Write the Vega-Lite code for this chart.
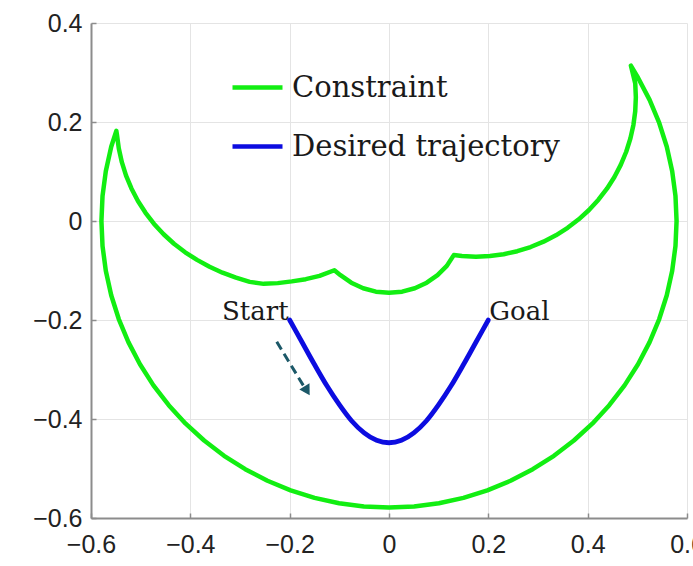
{
  "$schema": "https://vega.github.io/schema/vega-lite/v6.json",
  "width": 596,
  "height": 495,
  "autosize": {"type": "none"},
  "padding": {"left": 91, "top": 23, "right": 6, "bottom": 48},
  "background": "white",
  "config": {
    "view": {"stroke": null},
    "axis": {
      "domainColor": "#8c8c8c",
      "domainWidth": 2,
      "tickColor": "#8c8c8c",
      "tickWidth": 1.5,
      "tickSize": -5,
      "gridColor": "#e4e4e4",
      "gridWidth": 1,
      "labelFont": "Liberation Sans",
      "labelFontSize": 25,
      "labelColor": "#222222",
      "labelFlush": false,
      "labelOverlap": false,
      "labelBound": false,
      "title": null
    },
    "legend": {
      "orient": "none",
      "legendX": 139,
      "legendY": 37,
      "symbolType": "stroke",
      "symbolSize": 2500,
      "symbolStrokeWidth": 4.5,
      "labelFont": "DejaVu Serif",
      "labelFontSize": 29,
      "labelColor": "#1a1a1a",
      "labelOffset": 7,
      "labelLimit": 0,
      "rowPadding": 16,
      "padding": 0,
      "title": null
    }
  },
  "datasets": {
    "constraint": [
      {"series": "Constraint", "i": 0, "x": -0.549, "y": 0.182},
      {"series": "Constraint", "i": 1, "x": -0.5593, "y": 0.1499},
      {"series": "Constraint", "i": 2, "x": -0.5702, "y": 0.1005},
      {"series": "Constraint", "i": 3, "x": -0.5768, "y": 0.0505},
      {"series": "Constraint", "i": 4, "x": -0.579, "y": 0},
      {"series": "Constraint", "i": 5, "x": -0.5768, "y": -0.0505},
      {"series": "Constraint", "i": 6, "x": -0.5702, "y": -0.1005},
      {"series": "Constraint", "i": 7, "x": -0.5593, "y": -0.1499},
      {"series": "Constraint", "i": 8, "x": -0.5441, "y": -0.198},
      {"series": "Constraint", "i": 9, "x": -0.5247, "y": -0.2447},
      {"series": "Constraint", "i": 10, "x": -0.5014, "y": -0.2895},
      {"series": "Constraint", "i": 11, "x": -0.4743, "y": -0.3321},
      {"series": "Constraint", "i": 12, "x": -0.4435, "y": -0.3722},
      {"series": "Constraint", "i": 13, "x": -0.4094, "y": -0.4094},
      {"series": "Constraint", "i": 14, "x": -0.3722, "y": -0.4435},
      {"series": "Constraint", "i": 15, "x": -0.3321, "y": -0.4743},
      {"series": "Constraint", "i": 16, "x": -0.2895, "y": -0.5014},
      {"series": "Constraint", "i": 17, "x": -0.2447, "y": -0.5247},
      {"series": "Constraint", "i": 18, "x": -0.198, "y": -0.5441},
      {"series": "Constraint", "i": 19, "x": -0.1499, "y": -0.5593},
      {"series": "Constraint", "i": 20, "x": -0.1005, "y": -0.5702},
      {"series": "Constraint", "i": 21, "x": -0.0505, "y": -0.5768},
      {"series": "Constraint", "i": 22, "x": 0, "y": -0.579},
      {"series": "Constraint", "i": 23, "x": 0.0505, "y": -0.5768},
      {"series": "Constraint", "i": 24, "x": 0.1005, "y": -0.5702},
      {"series": "Constraint", "i": 25, "x": 0.1499, "y": -0.5593},
      {"series": "Constraint", "i": 26, "x": 0.198, "y": -0.5441},
      {"series": "Constraint", "i": 27, "x": 0.2447, "y": -0.5247},
      {"series": "Constraint", "i": 28, "x": 0.2895, "y": -0.5014},
      {"series": "Constraint", "i": 29, "x": 0.3321, "y": -0.4743},
      {"series": "Constraint", "i": 30, "x": 0.3722, "y": -0.4435},
      {"series": "Constraint", "i": 31, "x": 0.4094, "y": -0.4094},
      {"series": "Constraint", "i": 32, "x": 0.4435, "y": -0.3722},
      {"series": "Constraint", "i": 33, "x": 0.4743, "y": -0.3321},
      {"series": "Constraint", "i": 34, "x": 0.5014, "y": -0.2895},
      {"series": "Constraint", "i": 35, "x": 0.5247, "y": -0.2447},
      {"series": "Constraint", "i": 36, "x": 0.5441, "y": -0.198},
      {"series": "Constraint", "i": 37, "x": 0.5593, "y": -0.1499},
      {"series": "Constraint", "i": 38, "x": 0.5702, "y": -0.1005},
      {"series": "Constraint", "i": 39, "x": 0.5768, "y": -0.0505},
      {"series": "Constraint", "i": 40, "x": 0.579, "y": 0},
      {"series": "Constraint", "i": 41, "x": 0.5768, "y": 0.0505},
      {"series": "Constraint", "i": 42, "x": 0.5702, "y": 0.1005},
      {"series": "Constraint", "i": 43, "x": 0.5593, "y": 0.1499},
      {"series": "Constraint", "i": 44, "x": 0.5441, "y": 0.198},
      {"series": "Constraint", "i": 45, "x": 0.5247, "y": 0.2447},
      {"series": "Constraint", "i": 46, "x": 0.5014, "y": 0.2895},
      {"series": "Constraint", "i": 47, "x": 0.487, "y": 0.314},
      {"series": "Constraint", "i": 48, "x": 0.4958, "y": 0.2781},
      {"series": "Constraint", "i": 49, "x": 0.497, "y": 0.25},
      {"series": "Constraint", "i": 50, "x": 0.4958, "y": 0.2219},
      {"series": "Constraint", "i": 51, "x": 0.4921, "y": 0.1941},
      {"series": "Constraint", "i": 52, "x": 0.486, "y": 0.1667},
      {"series": "Constraint", "i": 53, "x": 0.4776, "y": 0.1399},
      {"series": "Constraint", "i": 54, "x": 0.4668, "y": 0.1139},
      {"series": "Constraint", "i": 55, "x": 0.4539, "y": 0.089},
      {"series": "Constraint", "i": 56, "x": 0.4388, "y": 0.0653},
      {"series": "Constraint", "i": 57, "x": 0.4217, "y": 0.043},
      {"series": "Constraint", "i": 58, "x": 0.4027, "y": 0.0223},
      {"series": "Constraint", "i": 59, "x": 0.382, "y": 0.0034},
      {"series": "Constraint", "i": 60, "x": 0.3597, "y": -0.0138},
      {"series": "Constraint", "i": 61, "x": 0.336, "y": -0.0289},
      {"series": "Constraint", "i": 62, "x": 0.3111, "y": -0.0418},
      {"series": "Constraint", "i": 63, "x": 0.2851, "y": -0.0526},
      {"series": "Constraint", "i": 64, "x": 0.2583, "y": -0.061},
      {"series": "Constraint", "i": 65, "x": 0.2309, "y": -0.0671},
      {"series": "Constraint", "i": 66, "x": 0.2031, "y": -0.0708},
      {"series": "Constraint", "i": 67, "x": 0.175, "y": -0.072},
      {"series": "Constraint", "i": 68, "x": 0.1469, "y": -0.0708},
      {"series": "Constraint", "i": 69, "x": 0.1305, "y": -0.0689},
      {"series": "Constraint", "i": 70, "x": 0.1164, "y": -0.0907},
      {"series": "Constraint", "i": 71, "x": 0.0977, "y": -0.1094},
      {"series": "Constraint", "i": 72, "x": 0.076, "y": -0.1246},
      {"series": "Constraint", "i": 73, "x": 0.052, "y": -0.1358},
      {"series": "Constraint", "i": 74, "x": 0.0264, "y": -0.1427},
      {"series": "Constraint", "i": 75, "x": 0, "y": -0.145},
      {"series": "Constraint", "i": 76, "x": -0.0264, "y": -0.1427},
      {"series": "Constraint", "i": 77, "x": -0.052, "y": -0.1358},
      {"series": "Constraint", "i": 78, "x": -0.076, "y": -0.1246},
      {"series": "Constraint", "i": 79, "x": -0.0977, "y": -0.1094},
      {"series": "Constraint", "i": 80, "x": -0.11, "y": -0.0995},
      {"series": "Constraint", "i": 81, "x": -0.1399, "y": -0.1109},
      {"series": "Constraint", "i": 82, "x": -0.1676, "y": -0.1175},
      {"series": "Constraint", "i": 83, "x": -0.1957, "y": -0.122},
      {"series": "Constraint", "i": 84, "x": -0.224, "y": -0.1255},
      {"series": "Constraint", "i": 85, "x": -0.2523, "y": -0.127},
      {"series": "Constraint", "i": 86, "x": -0.2804, "y": -0.123},
      {"series": "Constraint", "i": 87, "x": -0.3081, "y": -0.1145},
      {"series": "Constraint", "i": 88, "x": -0.3352, "y": -0.1045},
      {"series": "Constraint", "i": 89, "x": -0.3613, "y": -0.0925},
      {"series": "Constraint", "i": 90, "x": -0.3865, "y": -0.0785},
      {"series": "Constraint", "i": 91, "x": -0.4104, "y": -0.0632},
      {"series": "Constraint", "i": 92, "x": -0.4329, "y": -0.046},
      {"series": "Constraint", "i": 93, "x": -0.4538, "y": -0.0268},
      {"series": "Constraint", "i": 94, "x": -0.473, "y": -0.0059},
      {"series": "Constraint", "i": 95, "x": -0.4902, "y": 0.0166},
      {"series": "Constraint", "i": 96, "x": -0.5055, "y": 0.0405},
      {"series": "Constraint", "i": 97, "x": -0.5186, "y": 0.0657},
      {"series": "Constraint", "i": 98, "x": -0.5294, "y": 0.0918},
      {"series": "Constraint", "i": 99, "x": -0.5379, "y": 0.1189},
      {"series": "Constraint", "i": 100, "x": -0.544, "y": 0.1466},
      {"series": "Constraint", "i": 101, "x": -0.5478, "y": 0.1747},
      {"series": "Constraint", "i": 102, "x": -0.549, "y": 0.182}
    ],
    "trajectory": [
      {"series": "Desired trajectory", "i": 0, "x": -0.2, "y": -0.2},
      {"series": "Desired trajectory", "i": 1, "x": -0.175, "y": -0.245},
      {"series": "Desired trajectory", "i": 2, "x": -0.15, "y": -0.29},
      {"series": "Desired trajectory", "i": 3, "x": -0.125, "y": -0.333},
      {"series": "Desired trajectory", "i": 4, "x": -0.1, "y": -0.371},
      {"series": "Desired trajectory", "i": 5, "x": -0.075, "y": -0.404},
      {"series": "Desired trajectory", "i": 6, "x": -0.05, "y": -0.428},
      {"series": "Desired trajectory", "i": 7, "x": -0.025, "y": -0.443},
      {"series": "Desired trajectory", "i": 8, "x": 0, "y": -0.448},
      {"series": "Desired trajectory", "i": 9, "x": 0.025, "y": -0.443},
      {"series": "Desired trajectory", "i": 10, "x": 0.05, "y": -0.428},
      {"series": "Desired trajectory", "i": 11, "x": 0.075, "y": -0.404},
      {"series": "Desired trajectory", "i": 12, "x": 0.1, "y": -0.371},
      {"series": "Desired trajectory", "i": 13, "x": 0.125, "y": -0.333},
      {"series": "Desired trajectory", "i": 14, "x": 0.15, "y": -0.29},
      {"series": "Desired trajectory", "i": 15, "x": 0.175, "y": -0.245},
      {"series": "Desired trajectory", "i": 16, "x": 0.2, "y": -0.2}
    ],
    "arrow": [
      {"x": -0.226, "y": -0.244, "x2": -0.169, "y2": -0.338, "hx": -0.165, "hy": -0.343}
    ],
    "labels": [
      {"label": "Start", "x": -0.2, "y": -0.2, "side": "left"},
      {"label": "Goal", "x": 0.2, "y": -0.2, "side": "right"}
    ]
  },
  "encoding": {
    "x": {
      "field": "x", "type": "quantitative",
      "scale": {"domain": [-0.6, 0.6], "nice": false, "zero": false},
      "axis": {"values": [-0.6, -0.4, -0.2, 0, 0.2, 0.4, 0.6], "format": ".1~f", "labelPadding": 19}
    },
    "y": {
      "field": "y", "type": "quantitative",
      "scale": {"domain": [-0.6, 0.4], "nice": false, "zero": false},
      "axis": {"values": [-0.6, -0.4, -0.2, 0, 0.2, 0.4], "format": ".1~f", "labelPadding": 14}
    }
  },
  "layer": [
    {
      "data": {"name": "constraint"},
      "mark": {"type": "line", "strokeWidth": 4.5, "strokeJoin": "round", "strokeCap": "round", "clip": true},
      "encoding": {
        "color": {
          "field": "series", "type": "nominal",
          "scale": {"domain": ["Constraint", "Desired trajectory"], "range": ["#12ee12", "#0c0ce0"]},
          "legend": {}
        },
        "order": {"field": "i", "type": "quantitative"}
      }
    },
    {
      "data": {"name": "trajectory"},
      "mark": {"type": "line", "strokeWidth": 4.8, "strokeJoin": "round", "strokeCap": "round", "interpolate": "monotone"},
      "encoding": {
        "color": {"field": "series", "type": "nominal"},
        "order": {"field": "i", "type": "quantitative"}
      }
    },
    {
      "data": {"name": "arrow"},
      "mark": {"type": "rule", "color": "#1c5868", "strokeWidth": 3, "strokeDash": [9, 5]},
      "encoding": {
        "x2": {"field": "x2"},
        "y2": {"field": "y2"}
      }
    },
    {
      "data": {"name": "arrow"},
      "mark": {"type": "point", "shape": "triangle-down", "filled": true, "color": "#1c5868", "size": 140, "angle": 329, "opacity": 1},
      "encoding": {
        "x": {"field": "hx", "type": "quantitative"},
        "y": {"field": "hy", "type": "quantitative"}
      }
    },
    {
      "data": {"name": "labels"},
      "transform": [{"filter": "datum.side == 'left'"}],
      "mark": {"type": "text", "align": "right", "baseline": "alphabetic", "dx": -1, "font": "DejaVu Serif", "fontSize": 26, "color": "#1a1a1a"},
      "encoding": {
        "text": {"field": "label"}
      }
    },
    {
      "data": {"name": "labels"},
      "transform": [{"filter": "datum.side == 'right'"}],
      "mark": {"type": "text", "align": "left", "baseline": "alphabetic", "dx": 1, "font": "DejaVu Serif", "fontSize": 26, "color": "#1a1a1a"},
      "encoding": {
        "text": {"field": "label"}
      }
    }
  ]
}
